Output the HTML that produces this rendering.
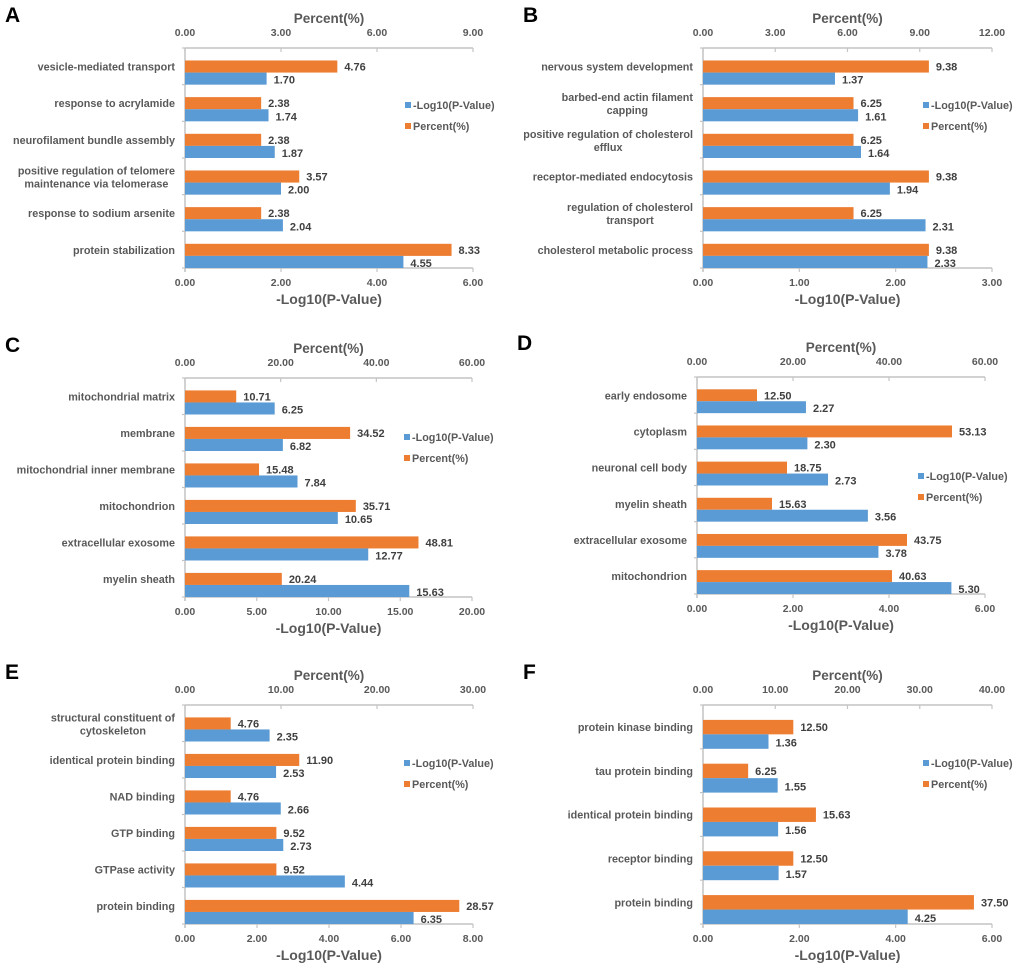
<!DOCTYPE html>
<html><head><meta charset="utf-8"><style>
html,body{margin:0;padding:0;background:#fff;}
svg{display:block;font-family:"Liberation Sans",Arial,sans-serif;font-weight:bold;}
</style></head><body>
<svg id="fig" width="1020" height="969" viewBox="0 0 1020 969"></svg>
<script>
// Panel A
const catsA = ["vesicle-mediated transport","response to acrylamide","neurofilament bundle assembly","positive regulation of telomere|maintenance via telomerase","response to sodium arsenite","protein stabilization"];
const logpA = [1.70,1.74,1.87,2.00,2.04,4.55];
const pctA = [4.76,2.38,2.38,3.57,2.38,8.33];
const botTicksA = ["0.00","2.00","4.00","6.00"];
const topTicksA = ["0.00","3.00","6.00","9.00"];
// Panel B
const catsB = ["nervous system development","barbed-end actin filament|capping","positive regulation of cholesterol|efflux","receptor-mediated endocytosis","regulation of cholesterol|transport","cholesterol metabolic process"];
const logpB = [1.37,1.61,1.64,1.94,2.31,2.33];
const pctB = [9.38,6.25,6.25,9.38,6.25,9.38];
const botTicksB = ["0.00","1.00","2.00","3.00"];
const topTicksB = ["0.00","3.00","6.00","9.00","12.00"];
// Panel C
const catsC = ["mitochondrial matrix","membrane","mitochondrial inner membrane","mitochondrion","extracellular exosome","myelin sheath"];
const logpC = [6.25,6.82,7.84,10.65,12.77,15.63];
const pctC = [10.71,34.52,15.48,35.71,48.81,20.24];
const botTicksC = ["0.00","5.00","10.00","15.00","20.00"];
const topTicksC = ["0.00","20.00","40.00","60.00"];
// Panel D
const catsD = ["early endosome","cytoplasm","neuronal cell body","myelin sheath","extracellular exosome","mitochondrion"];
const logpD = [2.27,2.30,2.73,3.56,3.78,5.30];
const pctD = [12.50,53.13,18.75,15.63,43.75,40.63];
const botTicksD = ["0.00","2.00","4.00","6.00"];
const topTicksD = ["0.00","20.00","40.00","60.00"];
// Panel E
const catsE = ["structural constituent of|cytoskeleton","identical protein binding","NAD binding","GTP binding","GTPase activity","protein binding"];
const logpE = [2.35,2.53,2.66,2.73,4.44,6.35];
const pctE = [4.76,11.90,4.76,9.52,9.52,28.57];
const botTicksE = ["0.00","2.00","4.00","6.00","8.00"];
const topTicksE = ["0.00","10.00","20.00","30.00"];
// Panel F
const catsF = ["protein kinase binding","tau protein binding","identical protein binding","receptor binding","protein binding"];
const logpF = [1.36,1.55,1.56,1.57,4.25];
const pctF = [12.50,6.25,15.63,12.50,37.50];
const botTicksF = ["0.00","2.00","4.00","6.00"];
const topTicksF = ["0.00","10.00","20.00","30.00","40.00"];

const NS="http://www.w3.org/2000/svg";
const svg=document.getElementById('fig');
function mk(tag,attrs,parent,text){const e=document.createElementNS(NS,tag);for(const k in attrs)e.setAttribute(k,attrs[k]);if(text!==undefined)e.textContent=text;parent.appendChild(e);return e;}

function panel(o){
  const g=mk('g',{},svg);
  
  
  const lt=mk('text',{x:o.lx,y:o.ly,'font-size':21,fill:'#000'},g,o.letter);
  
  
  const botMax=parseFloat(o.bot[o.bot.length-1]), topMax=parseFloat(o.top[o.top.length-1]);
  const xb=v=>o.x0+(v/botMax)*(o.x1-o.x0);
  const xt=v=>o.x0+(v/topMax)*(o.x1-o.x0);
  const n=o.cats.length, band=(o.yb-o.yt)/n;
  const ax='#c4c4c4', tc='#595959';
  const ta=mk('line',{x1:o.x0,x2:o.x1,y1:o.yt,y2:o.yt,stroke:ax,'stroke-width':1.5},g);
  
  const ba=mk('line',{x1:o.x0,x2:o.x1,y1:o.yb,y2:o.yb,stroke:ax,'stroke-width':1.5},g);
  
  const la=mk('line',{x1:o.x0,x2:o.x0,y1:o.yt,y2:o.yb+4,stroke:ax,'stroke-width':1.5},g);
  
  for(let i=0;i<=n;i++){const y=o.yt+i*band;mk('line',{x1:o.x0-3,x2:o.x0,y1:y,y2:y,stroke:ax,'stroke-width':1.2},g);}
  o.top.forEach(t=>{const x=xt(parseFloat(t));
    mk('line',{x1:x,x2:x,y1:o.yt,y2:o.yt+4,stroke:ax,'stroke-width':1.2},g);
    const e=mk('text',{x:x,y:o.yt-12,'text-anchor':'middle','font-size':10.5,fill:tc},g,t);
    });
  o.bot.forEach(t=>{const x=xb(parseFloat(t));
    mk('line',{x1:x,x2:x,y1:o.yb,y2:o.yb+4,stroke:ax,'stroke-width':1.2},g);
    const e=mk('text',{x:x,y:o.yb+18,'text-anchor':'middle','font-size':10.5,fill:tc},g,t);
    });
  const cx=(o.x0+o.x1)/2;
  const t1=mk('text',{x:cx,y:o.yt-25,'text-anchor':'middle','font-size':13.5,fill:tc},g,'Percent(%)');
  
  const t2=mk('text',{x:cx,y:o.yb+36,'text-anchor':'middle','font-size':14,fill:tc},g,'-Log10(P-Value)');
  
  for(let i=0;i<n;i++){
    const top=o.yt+i*band, bh=band*0.33, yo=top+band*0.34, yb2=yo+bh;
    const r1=mk('rect',{x:o.x0,y:yo,width:xt(o.pct[i])-o.x0,height:bh,fill:'#ED7D31'},g);
    
    const r2=mk('rect',{x:o.x0,y:yb2,width:xb(o.logp[i])-o.x0,height:bh,fill:'#5B9BD5'},g);
    
    const v1=mk('text',{x:xt(o.pct[i])+7,y:yo+bh/2+4,'font-size':11,fill:'#404040'},g,o.pct[i].toFixed(2));
    
    const v2=mk('text',{x:xb(o.logp[i])+7,y:yb2+bh/2+5,'font-size':11,fill:'#404040'},g,o.logp[i].toFixed(2));
    
    const lines=o.cats[i].split('|');
    const lx=o.x0-10, cy=yo+bh/2+4;
    if(lines.length===1){
      const c=mk('text',{x:lx,y:cy,'text-anchor':'end','font-size':10.8,fill:tc},g,lines[0]);
      
    } else {
      const probe=mk('text',{x:0,y:-100,'font-size':10.8},g,lines[0]);
      const w=probe.getComputedTextLength();
      g.removeChild(probe);
      const c=mk('text',{x:lx-w/2,y:cy-6,'text-anchor':'middle','font-size':10.8,fill:tc},g);
      
      mk('tspan',{x:lx-w/2,dy:0},c,lines[0]);
      mk('tspan',{x:lx-w/2,dy:13},c,lines[1]);
    }
  }
  const lg=mk('g',{},g);
  
  mk('rect',{x:o.gx,y:o.gy-3,width:6,height:6,fill:'#5B9BD5'},lg);
  const l1=mk('text',{x:o.gx+8,y:o.gy+4,'font-size':10.8,fill:tc},lg,'-Log10(P-Value)');
  
  mk('rect',{x:o.gx,y:o.gy+18,width:6,height:6,fill:'#ED7D31'},lg);
  const l2=mk('text',{x:o.gx+8,y:o.gy+25,'font-size':10.8,fill:tc},lg,'Percent(%)');
  
}

panel({letter:'A',lx:5,ly:22,cats:catsA,logp:logpA,pct:pctA,bot:botTicksA,top:topTicksA,x0:185,x1:473,yt:48,yb:268,gx:405,gy:105});
panel({letter:'B',lx:523,ly:22,cats:catsB,logp:logpB,pct:pctB,bot:botTicksB,top:topTicksB,x0:703,x1:992,yt:48,yb:268,gx:923,gy:105});
panel({letter:'C',lx:5,ly:352,cats:catsC,logp:logpC,pct:pctC,bot:botTicksC,top:topTicksC,x0:185,x1:472,yt:378,yb:597,gx:404,gy:437});
panel({letter:'D',lx:517,ly:350,cats:catsD,logp:logpD,pct:pctD,bot:botTicksD,top:topTicksD,x0:697,x1:985,yt:377,yb:594,gx:918,gy:476});
panel({letter:'E',lx:5,ly:679,cats:catsE,logp:logpE,pct:pctE,bot:botTicksE,top:topTicksE,x0:185,x1:473,yt:705,yb:924,gx:404,gy:763});
panel({letter:'F',lx:523,ly:679,cats:catsF,logp:logpF,pct:pctF,bot:botTicksF,top:topTicksF,x0:703,x1:992,yt:705,yb:924,gx:923,gy:763});
</script>
</body></html>
